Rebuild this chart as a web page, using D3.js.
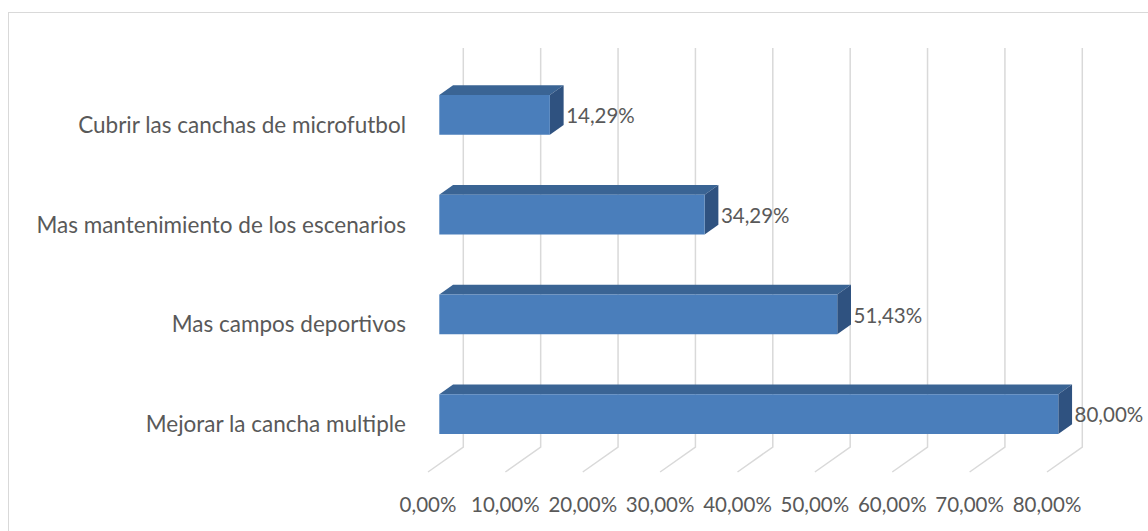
<!DOCTYPE html>
<html>
<head>
<meta charset="utf-8">
<script src="https://cdn.jsdelivr.net/npm/d3@7"></script>
<style>
  html, body { margin: 0; padding: 0; background: #fff; }
  svg { display: block; }
  text { font-family: Lato, "Liberation Sans", sans-serif; fill: #595959; }
</style>
</head>
<body>
<svg id="chart" width="1148" height="531"></svg>
<script>
// Survey answers and their shares
const categories = [
  "Cubrir las canchas de microfutbol",
  "Mas mantenimiento de los escenarios",
  "Mas campos deportivos",
  "Mejorar la cancha multiple"
];
const values = [0.1429, 0.3429, 0.5143, 0.80];
const ticks = [0, 0.1, 0.2, 0.3, 0.4, 0.5, 0.6, 0.7, 0.8];

const fmt = v => (v * 100).toFixed(2).replace(".", ",") + "%";

const svg = d3.select("#chart");

// outer chart frame
svg.append("rect")
  .attr("x", 8.5).attr("y", 12.5)
  .attr("width", 1160).attr("height", 540)
  .attr("fill", "none").attr("stroke", "#d9d9d9").attr("stroke-width", 1);

// back wall geometry and oblique depth vector
const backX0 = 463.3, wallTop = 48, wallBottom = 447;
const depth = { dx: -35.3, dy: 25 };

const x = d3.scaleLinear().domain([0, 0.8]).range([backX0, backX0 + 619]);
const y = d3.scaleBand().domain(categories).range([wallTop, wallBottom])
  .paddingInner(0.6).paddingOuter(0.3);

// project a point (value, wall y, depth z) onto the screen
const proj = (v, yy, z) => [x(v) + z * depth.dx, yy + z * depth.dy];

// gridlines: vertical on the back wall, then slanting across the floor
const grid = svg.append("g").attr("fill", "none").attr("stroke", "#d9d9d9").attr("stroke-width", 1.5);
ticks.forEach(t => {
  const a = proj(t, wallTop, 0), b = proj(t, wallBottom, 0), c = proj(t, wallBottom, 1);
  grid.append("path").attr("d", d3.line()([a, b, c]));
});

// tick labels along the front edge of the floor
svg.append("g").selectAll("text").data(ticks).join("text")
  .attr("x", d => proj(d, wallBottom, 1)[0])
  .attr("y", 512)
  .attr("text-anchor", "middle")
  .attr("font-size", 20.5)
  .text(fmt);

// 3D bars
const zBack = 0.29, zFront = 0.68;
const bars = svg.append("g");
categories.forEach((c, i) => {
  const v = values[i];
  const y0 = y(c), y1 = y(c) + y.bandwidth();
  const poly = pts => d3.line()(pts) + "Z";
  // top face
  bars.append("path").attr("fill", "#3a6494").attr("d", poly([
    proj(0, y0, zFront), proj(v, y0, zFront), proj(v, y0, zBack), proj(0, y0, zBack)
  ]));
  // right end face
  bars.append("path").attr("fill", "#2f5280").attr("d", poly([
    proj(v, y0, zFront), proj(v, y0, zBack), proj(v, y1, zBack), proj(v, y1, zFront)
  ]));
  // front face
  bars.append("path").attr("fill", "#4a7ebb").attr("d", poly([
    proj(0, y0, zFront), proj(v, y0, zFront), proj(v, y1, zFront), proj(0, y1, zFront)
  ]));
  // value label
  const fy = (y0 + y1) / 2 + zFront * depth.dy;
  svg.append("text")
    .attr("x", proj(v, y0, zBack)[0] + 2.5)
    .attr("y", fy + 1)
    .attr("dy", "0.35em")
    .attr("font-size", 20.5)
    .text(fmt(v));
});

// category labels on the left
svg.append("g").selectAll("text").data(categories).join("text")
  .attr("x", 406)
  .attr("y", d => y(d) + y.bandwidth() / 2 + depth.dy + 2)
  .attr("dy", "0.35em")
  .attr("text-anchor", "end")
  .attr("font-size", 22.5)
  .text(d => d);
</script>
</body>
</html>
